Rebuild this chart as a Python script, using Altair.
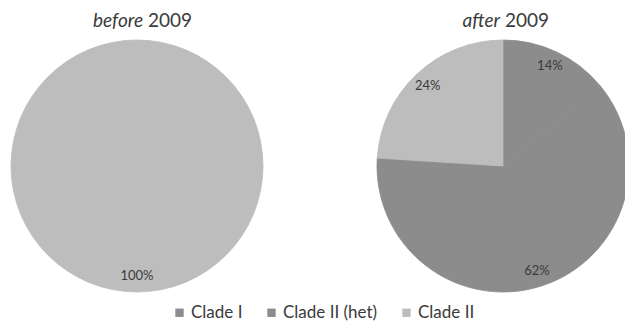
import json
import altair as alt
import pandas as pd

pies = ["before", "after"]
title_words = ["before", "after"]
title_year = "2009"
clades = ["Clade I", "Clade II (het)", "Clade II"]
before_values = [0, 0, 100]
after_values = [14, 62, 24]
colors = ["#8c8c8c", "#8c8c8c", "#bdbdbd"]

rows = []
for p, vals in zip(pies, [before_values, after_values]):
    for c, v in zip(clades, vals):
        rows.append({"pie": p, "clade": c, "value": v})
df = pd.DataFrame(rows)

FONT = "Lato"
TXT = "#3a3a3a"
CY = 166

base = (
    alt.Chart(df)
    .transform_calculate(order=f"indexof({json.dumps(clades)}, datum.clade)")
    .transform_joinaggregate(total="sum(value)", groupby=["pie"])
    .transform_window(cum="sum(value)", sort=[alt.SortField("order")],
                      groupby=["pie"], frame=[None, 0])
    .transform_calculate(t1="datum.cum / datum.total")
    .transform_calculate(t0="(datum.cum - datum.value) / datum.total")
    .transform_calculate(mid="(datum.t0 + datum.t1) / 2")
    .transform_calculate(label="datum.value + '%'")
)

xenc = alt.X("pie:N", scale=alt.Scale(type="point", domain=pies, range=[137, 503], padding=0), axis=None)
theta_scale = alt.Scale(domain=[0, 1], range=[0, 6.283185307179586])
color_scale = alt.Scale(domain=clades, range=colors)

arcs = base.mark_arc(radius=126, strokeWidth=0.8).encode(
    x=xenc,
    y=alt.value(CY),
    theta=alt.Theta("t0:Q", scale=theta_scale),
    theta2="t1:Q",
    stroke=alt.Stroke("clade:N", scale=color_scale, legend=None),
    color=alt.Color(
        "clade:N",
        scale=color_scale,
        legend=alt.Legend(
            title=None, orient="none", legendX=171, legendY=304,
            direction="horizontal", symbolType="square", symbolSize=70,
            symbolStrokeWidth=0, labelFont=FONT, labelFontSize=17,
            labelColor=TXT, columnPadding=20, labelOffset=3, padding=0,
        ),
    ),
)

labels = base.transform_filter("datum.value > 0").mark_text(
    radius=110, font=FONT, fontSize=13, color=TXT
).encode(
    x=xenc,
    y=alt.value(CY),
    theta=alt.Theta("mid:Q", scale=theta_scale),
    text="label:N",
)

def title_part(text, x, align, italic):
    kw = dict(text=text, align=align, baseline="alphabetic", font=FONT,
              fontSize=19, color=TXT)
    if italic:
        kw["fontStyle"] = "italic"
    return alt.Chart(df).transform_filter("datum.clade == 'Clade I' && datum.pie == 'before'").mark_text(**kw).encode(
        x=alt.value(x), y=alt.value(27)
    )

titles = [
    title_part(title_words[0], 143, "right", True),
    title_part(title_year, 148, "left", False),
    title_part(title_words[1], 500, "right", True),
    title_part(title_year, 505, "left", False),
]

chart = alt.layer(arcs, labels, *titles).properties(
    width=625, height=326,
    autosize=alt.AutoSizeParams(type="none"),
    padding=0, background="white",
).configure_view(stroke=None)

chart.save("out.html", embed_options={"renderer": "svg", "actions": False})
